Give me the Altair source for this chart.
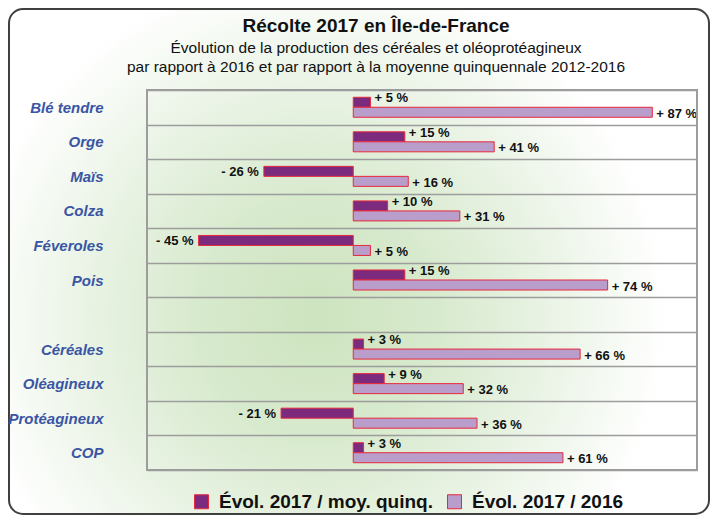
import altair as alt
import pandas as pd

# ---- data ----
categories = ["Blé tendre", "Orge", "Maïs", "Colza", "Féveroles", "Pois", " ",
              "Céréales", "Oléagineux", "Protéagineux", "COP"]
rows = ["Blé tendre", "Orge", "Maïs", "Colza", "Féveroles", "Pois",
        "Céréales", "Oléagineux", "Protéagineux", "COP"]
evol_moy = [5, 15, -26, 10, -45, 15, 3, 9, -21, 3]
evol_2016 = [87, 41, 16, 31, 5, 74, 66, 32, 36, 61]
series = ["Évol. 2017 / moy. quinq.", "Évol. 2017 / 2016"]
title_text = "Récolte 2017 en Île-de-France"
subtitle_lines = ["Évolution de la production des céréales et oléoprotéagineux",
                  "par rapport à 2016 et par rapport à la moyenne quinquennale 2012-2016"]

DARK = "#7b2a7e"
LIGHT = "#b99dcb"
RED = "#e8283c"
FONT = "Liberation Sans"


def fmt(v):
    return f"+ {v} %" if v >= 0 else f"- {abs(v)} %"


records = []
for c, a, b in zip(rows, evol_moy, evol_2016):
    records.append({"cat": c, "serie": series[0], "value": a, "label": fmt(a)})
    records.append({"cat": c, "serie": series[1], "value": b, "label": fmt(b)})
df = pd.DataFrame(records)
one = pd.DataFrame({"k": [0]})

W, H = 550, 380

y_enc = alt.Y("cat:N", title=None,
              scale=alt.Scale(domain=categories, paddingInner=0, paddingOuter=0),
              axis=alt.Axis(domain=False, ticks=False, tickSize=0, labelPadding=44,
                            labelFont=FONT, labelFontSize=15, labelFontWeight="bold",
                            labelFontStyle="italic", labelColor="#3a55a4",
                            grid=True, gridColor="#9d9d9d", gridWidth=1.5,
                            tickBand="extent", zindex=1, labelLimit=250))
yoff_enc = alt.YOffset("serie:N",
                       scale=alt.Scale(domain=series, paddingOuter=0.727, paddingInner=0))
x_enc = alt.X("value:Q", axis=None,
              scale=alt.Scale(domain=[-60, 100], nice=False, zero=True))

gradient = alt.RadialGradient(
    gradient="radial", x1=0.44, y1=0.58, r1=0, x2=0.44, y2=0.58, r2=0.5,
    stops=[alt.GradientStop(color="#cde4bf", offset=0),
           alt.GradientStop(color="#d8eace", offset=0.35),
           alt.GradientStop(color="#edf5e9", offset=0.72),
           alt.GradientStop(color="#ffffff", offset=1)])

bg = alt.Chart(one).mark_rect(fill=gradient, stroke="#404040", strokeWidth=2,
                              cornerRadius=14).encode(
    x=alt.value(-138), x2=alt.value(562), y=alt.value(-81), y2=alt.value(424))

frame = alt.Chart(one).mark_rect(fillOpacity=0, stroke="#9d9d9d", strokeWidth=2).encode(
    x=alt.value(0), x2=alt.value(W), y=alt.value(0), y2=alt.value(H))

bars = alt.Chart(df).mark_bar(stroke=RED, strokeWidth=1).encode(
    y=y_enc, yOffset=yoff_enc, x=x_enc,
    color=alt.Color("serie:N", scale=alt.Scale(domain=series, range=[DARK, LIGHT]),
                    legend=alt.Legend(orient="none", legendX=45, legendY=402,
                                      direction="horizontal", title=None,
                                      symbolType="square", symbolSize=196,
                                      symbolStrokeColor=RED, symbolStrokeWidth=1,
                                      symbolOpacity=1,
                                      labelFont=FONT, labelFontSize=19,
                                      labelFontWeight="bold", labelColor="#111111",
                                      labelOffset=8, columnPadding=12, padding=0,
                                      labelLimit=400)))

text_style = dict(font=FONT, fontSize=13, fontWeight="bold", color="#111111",
                  baseline="middle")

t_dark_pos = alt.Chart(df).transform_filter(
    (alt.datum.serie == series[0]) & (alt.datum.value >= 0)
).mark_text(align="left", dx=4, dy=-4, **text_style).encode(
    y=y_enc, yOffset=yoff_enc, x=x_enc, text="label:N")

t_dark_neg = alt.Chart(df).transform_filter(
    (alt.datum.serie == series[0]) & (alt.datum.value < 0)
).mark_text(align="right", dx=-5, dy=1, **text_style).encode(
    y=y_enc, yOffset=yoff_enc, x=x_enc, text="label:N")

t_light = alt.Chart(df).transform_filter(
    alt.datum.serie == series[1]
).mark_text(align="left", dx=4, dy=1.5, **text_style).encode(
    y=y_enc, yOffset=yoff_enc, x=x_enc, text="label:N")

title = alt.Chart(one).mark_text(text=title_text, font=FONT, fontSize=19,
                                 fontWeight="bold", align="center",
                                 baseline="alphabetic", color="#111111").encode(
    x=alt.value(229), y=alt.value(-58))
sub1 = alt.Chart(one).mark_text(text=subtitle_lines[0], font=FONT, fontSize=15.5,
                                align="center", baseline="alphabetic",
                                color="#111111").encode(
    x=alt.value(229), y=alt.value(-37))
sub2 = alt.Chart(one).mark_text(text=subtitle_lines[1], font=FONT, fontSize=15.5,
                                align="center", baseline="alphabetic",
                                color="#111111").encode(
    x=alt.value(229), y=alt.value(-18))

chart = alt.layer(bg, bars, t_dark_pos, t_dark_neg, t_light, frame,
                  title, sub1, sub2).properties(
    width=W, height=H,
    autosize=alt.AutoSizeParams(type="none"),
    padding={"left": 139, "top": 82, "right": 14, "bottom": 46},
    background="white",
).configure_view(strokeWidth=0)

chart.save("out.html", embed_options={"renderer": "svg", "actions": False})
